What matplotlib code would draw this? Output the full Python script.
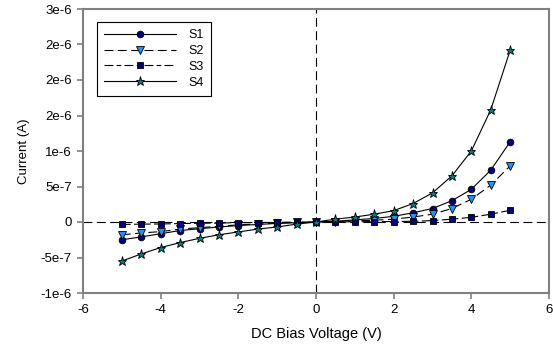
import numpy as np
import matplotlib
matplotlib.use("Agg")
import matplotlib.pyplot as plt
from matplotlib.ticker import FixedLocator

plt.rcParams['font.family'] = ['Liberation Sans', 'DejaVu Sans']
plt.rcParams['font.size'] = 9

voltage = [-5, -4.5, -4, -3.5, -3, -2.5, -2, -1.5, -1, -0.5, 0,
           0.5, 1, 1.5, 2, 2.5, 3, 3.5, 4, 4.5, 5]

s1 = [-0.25, -0.21, -0.165, -0.12, -0.095, -0.07, -0.05, -0.035, -0.02, -0.01, 0,
      0.01, 0.03, 0.05, 0.08, 0.13, 0.19, 0.30, 0.46, 0.73, 1.13]
s2 = [-0.18, -0.155, -0.135, -0.10, -0.08, -0.06, -0.04, -0.03, -0.015, -0.005, 0,
      0.005, 0.015, 0.025, 0.04, 0.07, 0.11, 0.19, 0.32, 0.52, 0.79]
s3 = [-0.035, -0.03, -0.028, -0.022, -0.018, -0.014, -0.01, -0.008, -0.005, -0.002, 0,
      0.002, 0.004, 0.005, 0.007, 0.01, 0.02, 0.04, 0.066, 0.11, 0.165]
s4 = [-0.55, -0.45, -0.36, -0.29, -0.23, -0.18, -0.14, -0.10, -0.07, -0.03, 0,
      0.04, 0.07, 0.11, 0.16, 0.26, 0.41, 0.65, 1.0, 1.58, 2.42]

ytick_vals = [-1e-6, -5e-7, 0, 5e-7, 1e-6, 1.5e-6, 2e-6, 2.5e-6, 3e-6]
ytick_labels = ['-1e-6', '-5e-7', '0', '5e-7', '1e-6', '2e-6', '2e-6', '2e-6', '3e-6']
xtick_vals = [-6, -4, -2, 0, 2, 4, 6]

scale = 1e-6
series = [
    ('S1', s1, 'o', '#000080', '-', 4.8),
    ('S2', s2, 'v', '#1e90ff', (0, (8, 4)), 5.5),
    ('S3', s3, 's', '#000080', (0, (8, 3, 4, 3)), 4.6),
    ('S4', s4, '*', '#008080', '-', 6.5),
]

fig = plt.figure(figsize=(5.53, 3.47), dpi=100)
ax = fig.add_axes([83 / 553, 54 / 347, 466 / 553, 284 / 347])

ax.axhline(0, color='black', lw=0.8, dashes=(8, 4), zorder=1)
ax.axvline(0, color='black', lw=0.8, dashes=(8, 4), zorder=1)

for name, vals, mk, col, ls, ms in series:
    ax.plot(voltage, np.array(vals) * scale, marker=mk, color='black',
            markerfacecolor=col, markeredgecolor='black', markeredgewidth=0.6,
            markersize=ms, linestyle=ls, lw=0.8, label=name, zorder=3)

ax.set_xlim(-6, 6)
ax.set_ylim(-1e-6, 3e-6)
ax.xaxis.set_major_locator(FixedLocator(xtick_vals))
ax.set_xticklabels([str(v) for v in xtick_vals])
ax.yaxis.set_major_locator(FixedLocator(ytick_vals))
ax.set_yticklabels(ytick_labels)

for sp in ax.spines.values():
    sp.set_color('#808080')
    sp.set_linewidth(1.5)
ax.tick_params(direction='out', color='#808080', width=1.2, length=4,
               labelsize=9.5, pad=4)

ax.set_xlabel('DC Bias Voltage (V)', fontsize=10.5, labelpad=8)
ax.set_ylabel('Current (A)', fontsize=9.5, labelpad=8)

leg = ax.legend(loc='upper left', bbox_to_anchor=(0.03, 0.955), fancybox=False,
                edgecolor='black', framealpha=1, fontsize=9, handlelength=5.7,
                borderpad=0.6, labelspacing=0.3, handletextpad=1.0,
                borderaxespad=0)
leg.get_frame().set_linewidth(0.8)

fig.savefig('out.png', dpi=100)
